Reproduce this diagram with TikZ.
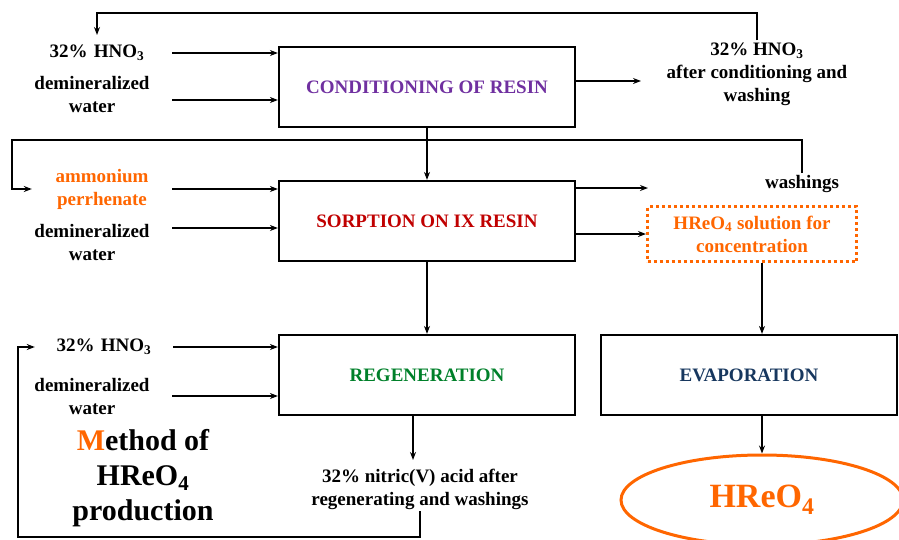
\documentclass[tikz,border=0pt]{standalone}
\usepackage{fontspec}
\setmainfont{Liberation Serif}
\usetikzlibrary{positioning,arrows.meta,shapes.geometric}

\definecolor{condcol}{HTML}{7030A0}
\definecolor{sorpcol}{HTML}{C00000}
\definecolor{regcol}{HTML}{00802A}
\definecolor{evapcol}{HTML}{17375E}
\definecolor{rheorange}{HTML}{FF6600}

\begin{document}
\begin{tikzpicture}[x=1pt,y=-1pt,
  font=\bfseries\fontsize{19}{23}\selectfont,
  procbox/.style={draw,line width=2.2pt,minimum width=296pt,minimum height=80pt},
  feed/.style={align=center,inner sep=2pt},
  flow/.style={line width=2.2pt,-{Stealth[length=8pt,width=6pt]}}]
\useasboundingbox (0,0) rectangle (899,539);

% Conditioning
\node[procbox,text=condcol] (cond) at (427,87) {CONDITIONING OF RESIN};
\node[feed,text width=146pt] (hnoA) at (97,53) {32\% HNO\textsubscript{3}};
\node[feed,text width=156pt] (dwA) at (92,94) {demineralized\\water};
\coordinate (dwAout) at ([yshift=-6pt]dwA.east);
\draw[flow] (hnoA.east) -- (hnoA.east -| cond.west);
\draw[flow] (dwAout) -- (dwAout -| cond.west);
\node[feed] (hnoOut) at (757,74) {32\% HNO\textsubscript{3}\\after conditioning and\\washing};
\coordinate (condOut) at (641,81);
\draw[flow] (condOut -| cond.east) -- (condOut);
\coordinate (rail1) at (0,13);
\draw[flow,shorten >=8pt] (hnoOut.north) |- (rail1 -| hnoA.north) -- (hnoA.north);

% Sorption
\node[procbox,text=sorpcol] (sorp) at (427,221) {SORPTION ON IX RESIN};
\draw[flow] (cond.south) -- (sorp.north);
\node[feed,text width=136pt,text=rheorange] (amm) at (102,189) {ammonium\\perrhenate};
\node[feed,text width=156pt] (dwB) at (92,242) {demineralized\\water};
\coordinate (dwBout) at ([yshift=14pt]dwB.east);
\draw[flow] (amm.east) -- (amm.east -| sorp.west);
\draw[flow] (dwBout) -- (dwBout -| sorp.west);
\node[feed] (wash) at (802,184) {washings};
\node[feed,draw=rheorange,dash pattern=on 3pt off 3pt,line width=3pt,text=rheorange,
  minimum width=209pt,minimum height=55pt] (conc) at (752,234) {HReO\textsubscript{4} solution for\\concentration};
\coordinate (washIn) at (648,188);
\draw[flow] (washIn -| sorp.east) -- (washIn);
\draw[flow] (conc.west -| sorp.east) -- (conc.west);
\coordinate (rail2) at (12,140);
\draw[flow] (wash.north) |- (rail2) |- (amm.west);

% Regeneration
\node[procbox,text=regcol] (regen) at (427,375) {REGENERATION};
\draw[flow] (sorp.south) -- (regen.north);
\node[feed,text width=134pt] (hnoC) at (104,347) {32\% HNO\textsubscript{3}};
\node[feed,text width=156pt] (dwC) at (92,396) {demineralized\\water};
\draw[flow] (hnoC.east) -- (hnoC.east -| regen.west);
\draw[flow] (dwC.east) -- (dwC.east -| regen.west);
\node[feed] (nitric) at (420,489) {32\% nitric(V) acid after\\regenerating and washings};
\coordinate (regOut) at (413,460);
\draw[flow] (regen.south -| regOut) -- (regOut);
\coordinate (rail3) at (18,537);
\draw[flow] (nitric.south) |- (rail3) |- (hnoC.west);

% Evaporation
\node[procbox,text=evapcol] (evap) at (749,375) {EVAPORATION};
\node[ellipse,draw=rheorange,line width=3pt,text=rheorange,minimum width=282pt,minimum height=90pt,
  font=\bfseries\fontsize{34}{40}\selectfont] (prod) at (762,500) {HReO\textsubscript{4}};
\draw[flow] (prod.north |- conc.south) -- (prod.north |- evap.north);
\draw[flow] (prod.north |- evap.south) -- (prod.north);

% Title
\node[feed,font=\bfseries\fontsize{30}{35}\selectfont] (title) at (143,478)
  {\textcolor{rheorange}{M}ethod of\\HReO\textsubscript{4}\\production};
\end{tikzpicture}
\end{document}
